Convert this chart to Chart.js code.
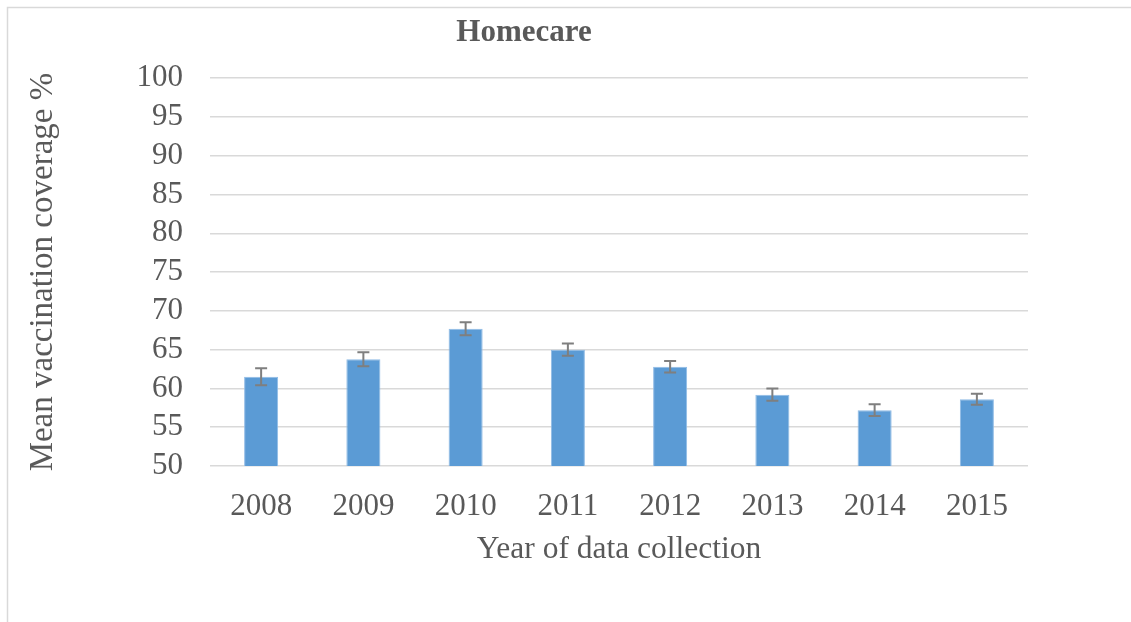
<!DOCTYPE html>
<html lang="en">
  <head>
    <meta charset="UTF-8" />
    <title>Homecare</title>
    <style>
      body {
        margin: 0;
        background: #fff;
      }
      #chart {
        display: block;
      }
    </style>
  </head>
  <body>
    <canvas id="chart" width="1131" height="622"></canvas>

    <script src="https://cdn.jsdelivr.net/npm/chart.js@4.4.1/dist/chart.umd.min.js"></script>
    <script>
      const years = ['2008', '2009', '2010', '2011', '2012', '2013', '2014', '2015'];
      const coverage = [61.5, 63.75, 67.7, 65.0, 62.8, 59.2, 57.2, 58.6];
      const errors = [1.1, 0.9, 0.85, 0.8, 0.75, 0.8, 0.75, 0.7];
      const yTicks = [50, 55, 60, 65, 70, 75, 80, 85, 90, 95, 100];

      const serif = "'Liberation Serif', 'Times New Roman', serif";
      const textGrey = '#595959';
      const gridGrey = '#d9d9d9';

      // light frame round the chart (only top and left show in the picture)
      const framePlugin = {
        id: 'frame',
        beforeDraw(chart) {
          const ctx = chart.ctx;
          ctx.save();
          ctx.strokeStyle = gridGrey;
          ctx.lineWidth = 1.5;
          ctx.beginPath();
          ctx.moveTo(7.5, chart.height);
          ctx.lineTo(7.5, 7.5);
          ctx.lineTo(chart.width, 7.5);
          ctx.stroke();
          ctx.restore();
        },
      };

      // error bars drawn through the y scale
      const errorBarPlugin = {
        id: 'errorBars',
        afterDatasetsDraw(chart) {
          const ctx = chart.ctx;
          const yScale = chart.scales.y;
          const meta = chart.getDatasetMeta(0);
          ctx.save();
          ctx.strokeStyle = '#7f7f7f';
          ctx.lineWidth = 2;
          meta.data.forEach((bar, i) => {
            const top = yScale.getPixelForValue(coverage[i] + errors[i]);
            const bottom = yScale.getPixelForValue(coverage[i] - errors[i]);
            const cap = 6;
            ctx.beginPath();
            ctx.moveTo(bar.x, top);
            ctx.lineTo(bar.x, bottom);
            ctx.moveTo(bar.x - cap, top);
            ctx.lineTo(bar.x + cap, top);
            ctx.moveTo(bar.x - cap, bottom);
            ctx.lineTo(bar.x + cap, bottom);
            ctx.stroke();
          });
          ctx.restore();
        },
      };

      new Chart(document.getElementById('chart'), {
        type: 'bar',
        data: {
          labels: years,
          datasets: [
            {
              label: 'Homecare',
              data: coverage,
              backgroundColor: '#5b9bd5',
              borderColor: '#8fbbe5',
              borderWidth: 1,
              barPercentage: 0.333,
              categoryPercentage: 1,
            },
          ],
        },
        options: {
          responsive: false,
          devicePixelRatio: 1,
          animation: false,
          layout: {
            padding: { left: 20, right: 103, top: 0, bottom: 0 },
          },
          plugins: {
            legend: { display: false },
            tooltip: { enabled: false },
            title: {
              display: true,
              text: 'Homecare',
              color: textGrey,
              font: { family: serif, size: 31, weight: 'bold' },
              padding: { top: 14, bottom: 27 },
            },
          },
          scales: {
            x: {
              grid: { display: false, drawTicks: false },
              border: { display: false },
              ticks: {
                color: textGrey,
                font: { family: serif, size: 31 },
                padding: 22,
              },
              title: {
                display: true,
                text: 'Year of data collection',
                color: textGrey,
                font: { family: serif, size: 31.5 },
                padding: { top: 0, bottom: 53 },
              },
              afterFit(scale) {
                scale.height = 156;
              },
            },
            y: {
              min: 50,
              max: 100,
              afterBuildTicks(scale) {
                scale.ticks = yTicks.map((v) => ({ value: v }));
              },
              grid: {
                color: gridGrey,
                lineWidth: 1.5,
                drawTicks: false,
              },
              border: { display: false },
              ticks: {
                color: textGrey,
                font: { family: serif, size: 31 },
                padding: 27,
                autoSkip: false,
              },
              title: {
                display: true,
                text: 'Mean vaccination coverage %',
                color: textGrey,
                font: { family: serif, size: 33 },
                padding: { top: 4, bottom: 0 },
              },
              afterFit(scale) {
                scale.width = 190;
              },
            },
          },
        },
        plugins: [framePlugin, errorBarPlugin],
      });
    </script>
  </body>
</html>
